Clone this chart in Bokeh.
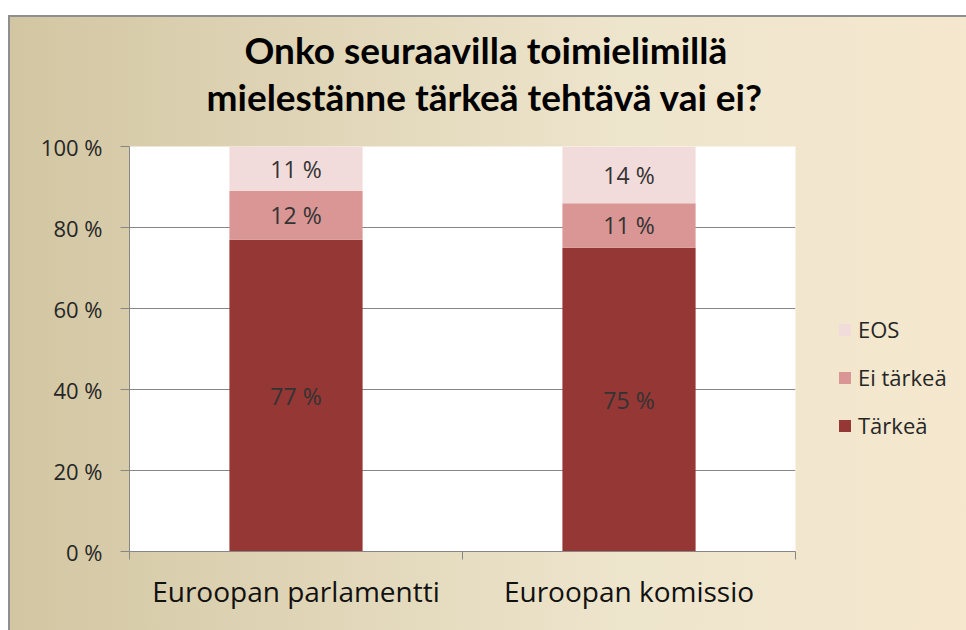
from bokeh.plotting import figure
from bokeh.models import (ColumnDataSource, Legend, LegendItem, FixedTicker, Range1d, Title,
                          Spacer, LinearAxis)
from bokeh.layouts import column, row
from bokeh.core.properties import value
from bokeh.embed import file_html
from bokeh.resources import INLINE

# ---- data ----
categories = ["Euroopan parlamentti", "Euroopan komissio"]
tarkea = [77, 75]
ei_tarkea = [12, 11]
eos = [11, 14]
series_keys = ["tarkea", "ei_tarkea", "eos"]
series_names = ["Tärkeä", "Ei tärkeä", "EOS"]
series_colors = ["#953735", "#d99694", "#f2dcdb"]
y_ticks = [0, 20, 40, 60, 80, 100]
y_tick_labels = ["0 %", "20 %", "40 %", "60 %", "80 %", "100 %"]
title_lines = ["Onko seuraavilla toimielimillä", "mielestänne tärkeä tehtävä vai ei?"]

FONT = "Open Sans"
TFONT = "Lato"
AXIS_GRAY = "#868686"

src = ColumnDataSource(dict(cat=categories, tarkea=tarkea, ei_tarkea=ei_tarkea, eos=eos))

p = figure(x_range=categories, y_range=Range1d(0, 100),
           frame_width=666, frame_height=405,
           output_backend="svg", toolbar_location=None,
           min_border_left=121, min_border_right=171, min_border_top=131, min_border_bottom=79)
p.background_fill_color = "white"
p.border_fill_alpha = 0
p.outline_line_color = None
p.styles = {
    "background": "linear-gradient(to right, #d2c6a2 0%, #eee5cd 45%, #fdebd0 100%)",
    "box-shadow": "inset 2px 2px 0 #8f8f8f",
}

renderers = p.vbar_stack(series_keys, x="cat", width=0.4, color=series_colors,
                         line_color=None, source=src)

# data labels
lab_x, lab_y, lab_t = [], [], []
for i, c in enumerate(categories):
    base = 0
    for vals in (tarkea, ei_tarkea, eos):
        v = vals[i]
        lab_x.append(c)
        lab_y.append(base + v / 2)
        lab_t.append(f"{v} %")
        base += v
p.text(x="x", y="y", text="t", source=ColumnDataSource(dict(x=lab_x, y=lab_y, t=lab_t)),
       text_align="center", text_baseline="middle", text_font=value(FONT),
       text_font_size="23px", text_color="#333333")

# y axis
p.yaxis.ticker = FixedTicker(ticks=y_ticks)
p.yaxis.major_label_overrides = {t: l for t, l in zip(y_ticks, y_tick_labels)}
p.yaxis.axis_line_color = AXIS_GRAY
p.yaxis.major_tick_line_color = AXIS_GRAY
p.yaxis.major_tick_out = 9
p.yaxis.major_tick_in = 0
p.yaxis.minor_tick_line_color = None
p.yaxis.major_label_standoff = 18
p.yaxis.major_label_text_font = FONT
p.yaxis.major_label_text_font_size = "22px"
p.yaxis.major_label_text_color = "#262626"

# category separator axis (axis line + ticks at category boundaries), closest to the frame
n = len(categories)
sep_ticks = list(range(n + 1))  # synthetic boundaries of the factor range
sep_axis = LinearAxis(ticker=FixedTicker(ticks=sep_ticks),
                      major_label_overrides={t: "" for t in sep_ticks},
                      major_label_text_font_size="1px", major_label_standoff=0,
                      axis_line_color=AXIS_GRAY, major_tick_line_color=AXIS_GRAY,
                      major_tick_out=8, major_tick_in=0, minor_tick_line_color=None)
cat_axis = p.xaxis[0]
p.below = [sep_axis] + list(p.below)

# category label axis
cat_axis.axis_line_color = None
cat_axis.major_tick_line_color = None
cat_axis.minor_tick_line_color = None
cat_axis.major_label_standoff = 6
cat_axis.major_label_text_font = FONT
cat_axis.major_label_text_font_size = "28px"
cat_axis.major_label_text_color = "#111111"

p.xgrid.grid_line_color = None
p.ygrid.grid_line_color = AXIS_GRAY
p.ygrid.ticker = FixedTicker(ticks=y_ticks)

# legend
items = [LegendItem(label=series_names[i], renderers=[renderers[i]]) for i in (2, 1, 0)]
legend = Legend(items=items, location=(42, 111), glyph_width=15, glyph_height=15,
                label_height=30, spacing=18, padding=0, margin=0, label_standoff=6,
                label_text_font=FONT, label_text_font_size="22px", label_text_color="#262626",
                border_line_color=None, background_fill_alpha=0)
p.add_layout(legend, "right")

# title (two lines); a blank 1px title first keeps a gap above the frame
p.add_layout(Title(text=" ", text_font_size="1px", standoff=25), "above")
p.add_layout(Title(text=title_lines[1], align="left", offset=77, standoff=0,
                   text_font=TFONT, text_font_style="bold", text_font_size="37px",
                   text_color="black"), "above")
p.add_layout(Title(text=title_lines[0], align="left", offset=115, standoff=0,
                   text_font=TFONT, text_font_style="bold", text_font_size="37px",
                   text_color="black"), "above")

layout = row(Spacer(width=8, height=10), column(Spacer(height=15, width=10), p, spacing=0), spacing=0)
open("out.html", "w").write(file_html(layout, INLINE))
